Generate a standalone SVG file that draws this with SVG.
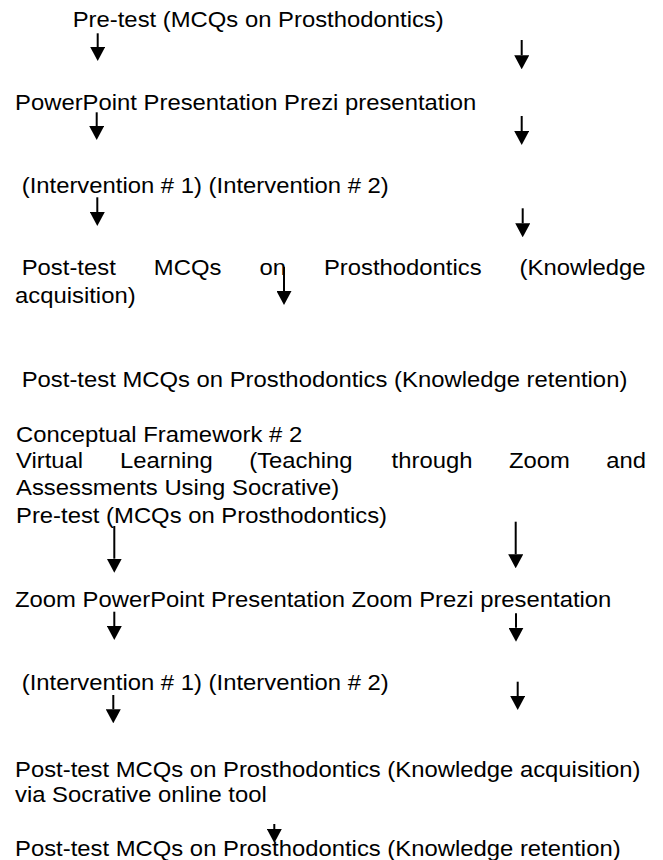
<svg xmlns="http://www.w3.org/2000/svg" width="663" height="860" viewBox="0 0 663 860">
<style>
text{font-family:"Liberation Sans",Arial,sans-serif;font-size:22px;fill:#000}
.c path{stroke:#000;stroke-width:2;fill:none;marker-end:url(#ah)}
</style>
<defs>
<marker id="ah" viewBox="0 0 14 15" markerWidth="14" markerHeight="15" markerUnits="userSpaceOnUse" refX="0" refY="7.5" orient="auto">
<path d="M0,0 L14,7.5 L0,15 z" fill="#000"/>
</marker>
</defs>
<rect width="663" height="860" fill="#fff"/>
<g id="pretest1"><text transform="translate(72.7 27.3) scale(1.084 1)">Pre-test (MCQs on Prosthodontics)</text></g>
<g id="presentations1"><text transform="translate(15 110) scale(1.084 1)">PowerPoint Presentation Prezi presentation</text></g>
<g id="interventions1"><text transform="translate(21.7 193.3) scale(1.084 1)">(Intervention # 1) (Intervention # 2)</text></g>
<g id="posttest-acq1">
<text transform="translate(21.7 275) scale(1.084 1)">Post-test</text>
<text transform="translate(153.8 275) scale(1.084 1)">MCQs</text>
<text transform="translate(259.4 275) scale(1.084 1)">on</text>
<text transform="translate(323.9 275) scale(1.084 1)">Prosthodontics</text>
<text transform="translate(519.6 275) scale(1.084 1)">(Knowledge</text>
<text transform="translate(15 302.7) scale(1.084 1)">acquisition)</text>
</g>
<g id="posttest-ret1"><text transform="translate(21.7 386.5) scale(1.084 1)">Post-test MCQs on Prosthodontics (Knowledge retention)</text></g>
<g id="framework2">
<text transform="translate(16 441.7) scale(1.084 1)">Conceptual Framework # 2</text>
<text transform="translate(16 468.3) scale(1.084 1)">Virtual</text>
<text transform="translate(120 468.3) scale(1.084 1)">Learning</text>
<text transform="translate(249.2 468.3) scale(1.084 1)">(Teaching</text>
<text transform="translate(391.6 468.3) scale(1.084 1)">through</text>
<text transform="translate(508.9 468.3) scale(1.084 1)">Zoom</text>
<text transform="translate(606.3 468.3) scale(1.084 1)">and</text>
<text transform="translate(16 495.3) scale(1.084 1)">Assessments Using Socrative)</text>
</g>
<g id="pretest2"><text transform="translate(16 523) scale(1.084 1)">Pre-test (MCQs on Prosthodontics)</text></g>
<g id="presentations2"><text transform="translate(15 607) scale(1.084 1)">Zoom PowerPoint Presentation Zoom Prezi presentation</text></g>
<g id="interventions2"><text transform="translate(21.7 690) scale(1.084 1)">(Intervention # 1) (Intervention # 2)</text></g>
<g id="posttest-acq2">
<text transform="translate(15 777.3) scale(1.084 1)">Post-test MCQs on Prosthodontics (Knowledge acquisition)</text>
<text transform="translate(15 801.5) scale(1.084 1)">via Socrative online tool</text>
</g>
<g id="posttest-ret2"><text transform="translate(15 855.5) scale(1.084 1)">Post-test MCQs on Prosthodontics (Knowledge retention)</text></g>
<g id="connectors" class="c">
<path d="M97.7,33.3 V47"/>
<path d="M96.7,112.3 V126"/>
<path d="M97.3,197.3 V212"/>
<path d="M284,266.7 V291"/>
<path d="M521.7,40 V55.3"/>
<path d="M521.7,116 V131"/>
<path d="M522.7,208.3 V223.3"/>
<path d="M114.3,526 V558.7"/>
<path d="M515.7,521.7 V554.3"/>
<path d="M114.3,611.7 V626"/>
<path d="M516,613.3 V627.7"/>
<path d="M113.3,695 V709.3"/>
<path d="M517.7,681.7 V696"/>
<path d="M274.3,824 V829"/>
</g>
</svg>
